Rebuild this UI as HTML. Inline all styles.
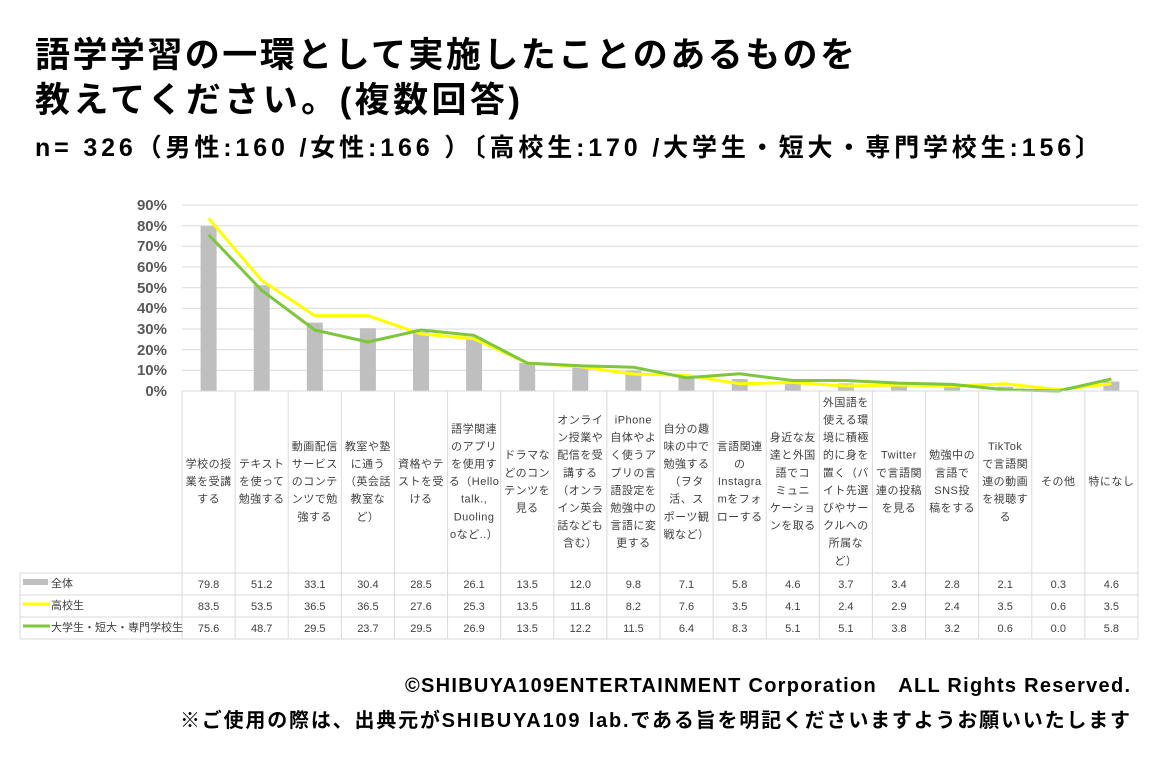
<!DOCTYPE html>
<html><head><meta charset="utf-8"><style>
html,body{margin:0;padding:0;background:#fff;}
svg{display:block;font-family:"Liberation Sans","Noto Sans CJK JP",sans-serif;}
.c{font-size:11px;fill:#404040;text-anchor:middle;letter-spacing:0.5px;}
.v{font-size:11px;fill:#404040;text-anchor:middle;}
.y{font-size:15px;font-weight:bold;fill:#595959;text-anchor:end;}
</style></head><body>
<svg width="1160" height="780" viewBox="0 0 1160 780" xmlns="http://www.w3.org/2000/svg">
<text x="35" y="67" font-size="35" font-weight="bold" fill="#000" font-family="Liberation Sans,Noto Sans CJK JP,sans-serif" textLength="820">語学学習の一環として実施したことのあるものを</text>
<text x="35" y="112" font-size="35" font-weight="bold" fill="#000" textLength="485">教えてください。(複数回答)</text>
<text x="35" y="156" font-size="25" font-weight="bold" fill="#000" textLength="1065">n= 326（男性:160 /女性:166 ）〔高校生:170 /大学生・短大・専門学校生:156〕</text>

<g stroke="#d9d9d9" stroke-width="1">
<line x1="182" y1="370.3" x2="1138" y2="370.3"/><line x1="182" y1="349.7" x2="1138" y2="349.7"/>
<line x1="182" y1="329" x2="1138" y2="329"/><line x1="182" y1="308.3" x2="1138" y2="308.3"/>
<line x1="182" y1="287.7" x2="1138" y2="287.7"/><line x1="182" y1="267" x2="1138" y2="267"/>
<line x1="182" y1="246.3" x2="1138" y2="246.3"/><line x1="182" y1="225.7" x2="1138" y2="225.7"/>
<line x1="182" y1="205" x2="1138" y2="205"/>
</g>
<g>
<text class="y" x="167" y="396">0%</text><text class="y" x="167" y="375">10%</text>
<text class="y" x="167" y="355">20%</text><text class="y" x="167" y="334">30%</text>
<text class="y" x="167" y="313">40%</text><text class="y" x="167" y="293">50%</text>
<text class="y" x="167" y="272">60%</text><text class="y" x="167" y="251">70%</text>
<text class="y" x="167" y="231">80%</text><text class="y" x="167" y="210">90%</text>
</g>
<g fill="#bfbfbf">
<rect x="200.6" y="226.1" width="16" height="164.9"/><rect x="253.7" y="285.2" width="16" height="105.8"/>
<rect x="306.8" y="322.6" width="16" height="68.4"/><rect x="359.9" y="328.2" width="16" height="62.8"/>
<rect x="413" y="332.1" width="16" height="58.9"/><rect x="466.1" y="337.1" width="16" height="53.9"/>
<rect x="519.2" y="363.1" width="16" height="27.9"/><rect x="572.3" y="366.2" width="16" height="24.8"/>
<rect x="625.4" y="370.7" width="16" height="20.3"/><rect x="678.5" y="376.3" width="16" height="14.7"/>
<rect x="731.7" y="379" width="16" height="12"/><rect x="784.8" y="381.5" width="16" height="9.5"/>
<rect x="837.9" y="383.4" width="16" height="7.6"/><rect x="891" y="384" width="16" height="7"/>
<rect x="944.1" y="385.2" width="16" height="5.8"/><rect x="997.2" y="386.7" width="16" height="4.3"/>
<rect x="1050.3" y="390.4" width="16" height="0.6"/><rect x="1103.4" y="381.5" width="16" height="9.5"/>
</g>
<polyline fill="none" stroke="#ffff00" stroke-width="3" stroke-linejoin="round" points="208.6,218.4 261.7,280.4 314.8,315.6 367.9,315.6 421,333.9 474.1,338.7 527.2,363.1 580.3,366.6 633.4,374.1 686.5,375.3 739.7,383.8 792.8,382.5 845.9,386 899,385 952.1,386 1005.2,383.8 1058.3,389.8 1111.4,383.8"/>
<polyline fill="none" stroke="#7dc63e" stroke-width="3" stroke-linejoin="round" points="208.6,234.7 261.7,290.3 314.8,330 367.9,342 421,330 474.1,335.4 527.2,363.1 580.3,365.8 633.4,367.2 686.5,377.8 739.7,373.8 792.8,380.5 845.9,380.5 899,383.1 952.1,384.4 1005.2,389.8 1058.3,391 1111.4,379"/>

<g stroke="#d9d9d9" stroke-width="1" fill="none">
<line x1="182" y1="391" x2="1138" y2="391"/>
<line x1="20" y1="573" x2="1138" y2="573"/><line x1="20" y1="595" x2="1138" y2="595"/>
<line x1="20" y1="617" x2="1138" y2="617"/><line x1="20" y1="639" x2="1138" y2="639"/>
<line x1="20" y1="573" x2="20" y2="639"/>
<line x1="182" y1="391" x2="182" y2="639"/><line x1="235.1" y1="391" x2="235.1" y2="639"/>
<line x1="288.2" y1="391" x2="288.2" y2="639"/><line x1="341.3" y1="391" x2="341.3" y2="639"/>
<line x1="394.4" y1="391" x2="394.4" y2="639"/><line x1="447.6" y1="391" x2="447.6" y2="639"/>
<line x1="500.7" y1="391" x2="500.7" y2="639"/><line x1="553.8" y1="391" x2="553.8" y2="639"/>
<line x1="606.9" y1="391" x2="606.9" y2="639"/><line x1="660" y1="391" x2="660" y2="639"/>
<line x1="713.1" y1="391" x2="713.1" y2="639"/><line x1="766.2" y1="391" x2="766.2" y2="639"/>
<line x1="819.3" y1="391" x2="819.3" y2="639"/><line x1="872.4" y1="391" x2="872.4" y2="639"/>
<line x1="925.6" y1="391" x2="925.6" y2="639"/><line x1="978.7" y1="391" x2="978.7" y2="639"/>
<line x1="1031.8" y1="391" x2="1031.8" y2="639"/><line x1="1084.9" y1="391" x2="1084.9" y2="639"/>
<line x1="1138" y1="391" x2="1138" y2="639"/>
</g>

<g class="c">
<text class="c" x="208.6" y="467.5"><tspan x="208.6">学校の授</tspan><tspan x="208.6" dy="17.6">業を受講</tspan><tspan x="208.6" dy="17.6">する</tspan></text>
<text class="c" x="261.7" y="467.5"><tspan x="261.7">テキスト</tspan><tspan x="261.7" dy="17.6">を使って</tspan><tspan x="261.7" dy="17.6">勉強する</tspan></text>
<text class="c" x="314.8" y="449.9"><tspan x="314.8">動画配信</tspan><tspan x="314.8" dy="17.6">サービス</tspan><tspan x="314.8" dy="17.6">のコンテ</tspan><tspan x="314.8" dy="17.6">ンツで勉</tspan><tspan x="314.8" dy="17.6">強する</tspan></text>
<text class="c" x="367.9" y="449.9"><tspan x="367.9">教室や塾</tspan><tspan x="367.9" dy="17.6">に通う</tspan><tspan x="367.9" dy="17.6">（英会話</tspan><tspan x="367.9" dy="17.6">教室な</tspan><tspan x="367.9" dy="17.6">ど）</tspan></text>
<text class="c" x="421" y="467.5"><tspan x="421">資格やテ</tspan><tspan x="421" dy="17.6">ストを受</tspan><tspan x="421" dy="17.6">ける</tspan></text>
<text class="c" x="474.1" y="432.3"><tspan x="474.1">語学関連</tspan><tspan x="474.1" dy="17.6">のアプリ</tspan><tspan x="474.1" dy="17.6">を使用す</tspan><tspan x="474.1" dy="17.6">る（Hello</tspan><tspan x="474.1" dy="17.6">talk.,</tspan><tspan x="474.1" dy="17.6">Duoling</tspan><tspan x="474.1" dy="17.6">oなど..）</tspan></text>
<text class="c" x="527.2" y="458.7"><tspan x="527.2">ドラマな</tspan><tspan x="527.2" dy="17.6">どのコン</tspan><tspan x="527.2" dy="17.6">テンツを</tspan><tspan x="527.2" dy="17.6">見る</tspan></text>
<text class="c" x="580.3" y="423.5"><tspan x="580.3">オンライ</tspan><tspan x="580.3" dy="17.6">ン授業や</tspan><tspan x="580.3" dy="17.6">配信を受</tspan><tspan x="580.3" dy="17.6">講する</tspan><tspan x="580.3" dy="17.6">（オンラ</tspan><tspan x="580.3" dy="17.6">イン英会</tspan><tspan x="580.3" dy="17.6">話なども</tspan><tspan x="580.3" dy="17.6">含む）</tspan></text>
<text class="c" x="633.4" y="423.5"><tspan x="633.4">iPhone</tspan><tspan x="633.4" dy="17.6">自体やよ</tspan><tspan x="633.4" dy="17.6">く使うア</tspan><tspan x="633.4" dy="17.6">プリの言</tspan><tspan x="633.4" dy="17.6">語設定を</tspan><tspan x="633.4" dy="17.6">勉強中の</tspan><tspan x="633.4" dy="17.6">言語に変</tspan><tspan x="633.4" dy="17.6">更する</tspan></text>
<text class="c" x="686.5" y="432.3"><tspan x="686.5">自分の趣</tspan><tspan x="686.5" dy="17.6">味の中で</tspan><tspan x="686.5" dy="17.6">勉強する</tspan><tspan x="686.5" dy="17.6">（ヲタ</tspan><tspan x="686.5" dy="17.6">活、ス</tspan><tspan x="686.5" dy="17.6">ポーツ観</tspan><tspan x="686.5" dy="17.6">戦など）</tspan></text>
<text class="c" x="739.7" y="449.9"><tspan x="739.7">言語関連</tspan><tspan x="739.7" dy="17.6">の</tspan><tspan x="739.7" dy="17.6">Instagra</tspan><tspan x="739.7" dy="17.6">mをフォ</tspan><tspan x="739.7" dy="17.6">ローする</tspan></text>
<text class="c" x="792.8" y="441.1"><tspan x="792.8">身近な友</tspan><tspan x="792.8" dy="17.6">達と外国</tspan><tspan x="792.8" dy="17.6">語でコ</tspan><tspan x="792.8" dy="17.6">ミュニ</tspan><tspan x="792.8" dy="17.6">ケーショ</tspan><tspan x="792.8" dy="17.6">ンを取る</tspan></text>
<text class="c" x="845.9" y="405.9"><tspan x="845.9">外国語を</tspan><tspan x="845.9" dy="17.6">使える環</tspan><tspan x="845.9" dy="17.6">境に積極</tspan><tspan x="845.9" dy="17.6">的に身を</tspan><tspan x="845.9" dy="17.6">置く（バ</tspan><tspan x="845.9" dy="17.6">イト先選</tspan><tspan x="845.9" dy="17.6">びやサー</tspan><tspan x="845.9" dy="17.6">クルへの</tspan><tspan x="845.9" dy="17.6">所属な</tspan><tspan x="845.9" dy="17.6">ど）</tspan></text>
<text class="c" x="899" y="458.7"><tspan x="899">Twitter</tspan><tspan x="899" dy="17.6">で言語関</tspan><tspan x="899" dy="17.6">連の投稿</tspan><tspan x="899" dy="17.6">を見る</tspan></text>
<text class="c" x="952.1" y="458.7"><tspan x="952.1">勉強中の</tspan><tspan x="952.1" dy="17.6">言語で</tspan><tspan x="952.1" dy="17.6">SNS投</tspan><tspan x="952.1" dy="17.6">稿をする</tspan></text>
<text class="c" x="1005.2" y="449.9"><tspan x="1005.2">TikTok</tspan><tspan x="1005.2" dy="17.6">で言語関</tspan><tspan x="1005.2" dy="17.6">連の動画</tspan><tspan x="1005.2" dy="17.6">を視聴す</tspan><tspan x="1005.2" dy="17.6">る</tspan></text>
<text class="c" x="1058.3" y="485.1">その他</text>
<text class="c" x="1111.4" y="485.1">特になし</text>
</g>

<rect x="23" y="579" width="25" height="6" fill="#bfbfbf"/>
<line x1="23" y1="604" x2="50" y2="604" stroke="#ffff00" stroke-width="3"/>
<line x1="23" y1="626" x2="50" y2="626" stroke="#7dc63e" stroke-width="3"/>
<text x="51" y="587" font-size="11" fill="#404040">全体</text>
<text x="51" y="609" font-size="11" fill="#404040">高校生</text>
<text x="51" y="631" font-size="11" fill="#404040">大学生・短大・専門学校生</text>

<g class="v">
<text class="v" x="208.6" y="588">79.8</text><text class="v" x="261.7" y="588">51.2</text><text class="v" x="314.8" y="588">33.1</text><text class="v" x="367.9" y="588">30.4</text><text class="v" x="421" y="588">28.5</text><text class="v" x="474.1" y="588">26.1</text><text class="v" x="527.2" y="588">13.5</text><text class="v" x="580.3" y="588">12.0</text><text class="v" x="633.4" y="588">9.8</text><text class="v" x="686.5" y="588">7.1</text><text class="v" x="739.7" y="588">5.8</text><text class="v" x="792.8" y="588">4.6</text><text class="v" x="845.9" y="588">3.7</text><text class="v" x="899" y="588">3.4</text><text class="v" x="952.1" y="588">2.8</text><text class="v" x="1005.2" y="588">2.1</text><text class="v" x="1058.3" y="588">0.3</text><text class="v" x="1111.4" y="588">4.6</text>
<text class="v" x="208.6" y="610">83.5</text><text class="v" x="261.7" y="610">53.5</text><text class="v" x="314.8" y="610">36.5</text><text class="v" x="367.9" y="610">36.5</text><text class="v" x="421" y="610">27.6</text><text class="v" x="474.1" y="610">25.3</text><text class="v" x="527.2" y="610">13.5</text><text class="v" x="580.3" y="610">11.8</text><text class="v" x="633.4" y="610">8.2</text><text class="v" x="686.5" y="610">7.6</text><text class="v" x="739.7" y="610">3.5</text><text class="v" x="792.8" y="610">4.1</text><text class="v" x="845.9" y="610">2.4</text><text class="v" x="899" y="610">2.9</text><text class="v" x="952.1" y="610">2.4</text><text class="v" x="1005.2" y="610">3.5</text><text class="v" x="1058.3" y="610">0.6</text><text class="v" x="1111.4" y="610">3.5</text>
<text class="v" x="208.6" y="632">75.6</text><text class="v" x="261.7" y="632">48.7</text><text class="v" x="314.8" y="632">29.5</text><text class="v" x="367.9" y="632">23.7</text><text class="v" x="421" y="632">29.5</text><text class="v" x="474.1" y="632">26.9</text><text class="v" x="527.2" y="632">13.5</text><text class="v" x="580.3" y="632">12.2</text><text class="v" x="633.4" y="632">11.5</text><text class="v" x="686.5" y="632">6.4</text><text class="v" x="739.7" y="632">8.3</text><text class="v" x="792.8" y="632">5.1</text><text class="v" x="845.9" y="632">5.1</text><text class="v" x="899" y="632">3.8</text><text class="v" x="952.1" y="632">3.2</text><text class="v" x="1005.2" y="632">0.6</text><text class="v" x="1058.3" y="632">0.0</text><text class="v" x="1111.4" y="632">5.8</text>
</g>

<text x="1130" y="692" font-size="20" font-weight="bold" fill="#000" text-anchor="end" textLength="725">©SHIBUYA109ENTERTAINMENT Corporation　ALL Rights Reserved.</text>
<text x="1130" y="727" font-size="20" font-weight="bold" fill="#000" text-anchor="end" textLength="950">※ご使用の際は、出典元がSHIBUYA109 lab.である旨を明記くださいますようお願いいたします</text>
</svg>
</body></html>
